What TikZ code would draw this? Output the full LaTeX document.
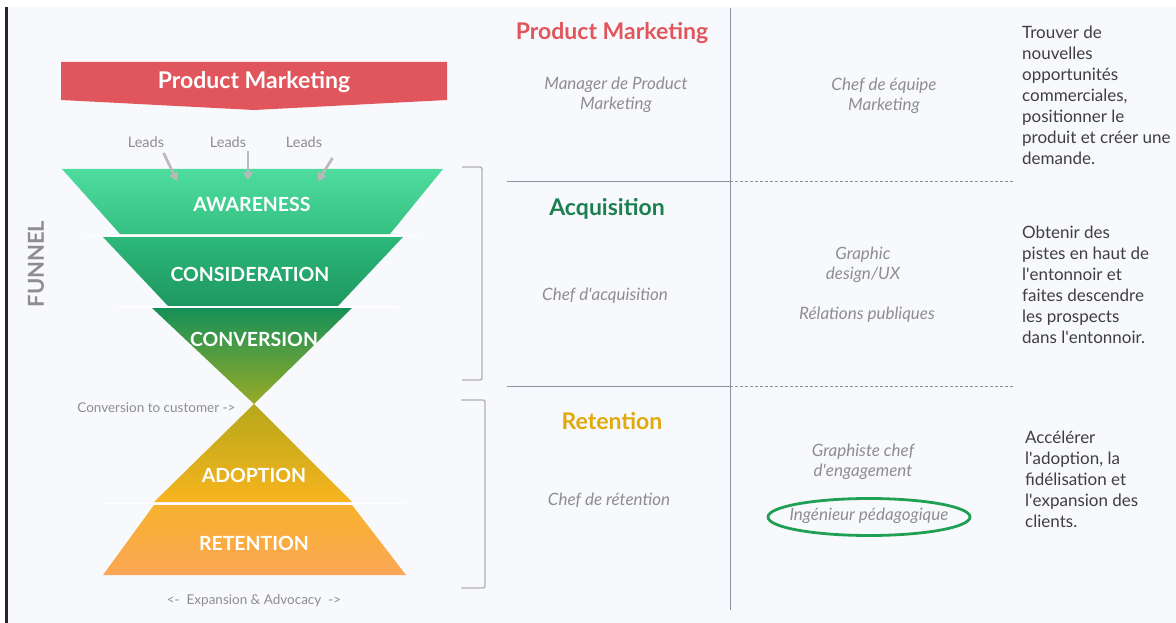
\documentclass[tikz,border=0pt]{standalone}
\usepackage{fontspec}
\setmainfont{Lato}
\usepackage{tikz}
\usetikzlibrary{positioning,shapes.geometric,arrows.meta}
\usepackage{xcolor}
\definecolor{pmred}{HTML}{E0565C}
\definecolor{acqgreen}{HTML}{1B7F50}
\definecolor{retgold}{HTML}{E0A90C}
\definecolor{softgray}{HTML}{8E8E8E}
\definecolor{textdark}{HTML}{3F3F3F}
\definecolor{linegray}{HTML}{8C90A0}
\definecolor{bggray}{HTML}{F8F9FC}
\definecolor{ovalgreen}{HTML}{1FA055}
\definecolor{awtop}{HTML}{4FDC9F}
\definecolor{awbot}{HTML}{34C081}
\definecolor{cotop}{HTML}{2CB87A}
\definecolor{cobot}{HTML}{1E9760}
\definecolor{cvtop}{HTML}{159058}
\definecolor{cvmid}{HTML}{2D9548}
\definecolor{cvbot}{HTML}{98AA26}
\definecolor{adtop}{HTML}{B5A81A}
\definecolor{admid}{HTML}{FABE0A}
\definecolor{adbot}{HTML}{F8B41E}
\definecolor{retop}{HTML}{F8B22E}
\definecolor{rebot}{HTML}{FBA655}
\newcommand{\apos}{\textquotesingle}
\tikzset{
  lead/.style={text=softgray, font=\fontsize{14.5}{17}\selectfont},
  leadarrow/.style={draw=gray!55, line width=2.6pt, -{Triangle[length=8pt,width=9pt]}},
  stage/.style={text=white, font=\bfseries\fontsize{19.5}{23}\selectfont},
  head/.style={font=\bfseries\fontsize{23}{27}\selectfont},
  role/.style={text=softgray, font=\itshape\fontsize{17}{20.5}\selectfont, align=center},
  note/.style={text=softgray, font=\fontsize{13.5}{16}\selectfont},
  goal/.style={text=textdark, font=\fontsize{17}{21}\selectfont, align=left, anchor=north west, inner sep=0pt},
  bracket/.style={draw=gray!60, line width=1.4pt, rounded corners=2pt},
  sep/.style={draw=linegray, line width=0.9pt}
}
\begin{document}
\begin{tikzpicture}[x=1pt,y=-1pt]
            \useasboundingbox (0,0) rectangle (1176,623);
            \fill[white] (0,0) rectangle (1176,623);
            \fill[bggray] (7,7) rectangle (1176,623);
            \fill[black!85] (5,7) rectangle (8,623);
            % funnel
            \fill[pmred] (61,62) -- (447,62) -- (447,100) -- (254,110) -- (61,100) -- cycle;
            \shade[top color=awtop, bottom color=awbot] (62,169) -- (443,169) -- (390,234) -- (120,234) -- cycle;
            \shade[top color=cotop, bottom color=cobot] (103,237) -- (403,237) -- (338,306) -- (168,306) -- cycle;
            \shade[top color=cvtop, middle color=cvmid, bottom color=cvbot] (152,308) -- (352,308) -- (254,404) -- cycle;
            \shade[top color=adtop, middle color=admid, bottom color=adbot] (254,404) -- (352,502) -- (154,502) -- cycle;
            \shade[top color=retop, bottom color=rebot] (154,505) -- (352,505) -- (406,575) -- (103,575) -- cycle;
            \draw[white, line width=1.2pt] (86,235.5) -- (418,235.5);
            \draw[white, line width=1.2pt] (118,307) -- (398,307);
            \draw[white, line width=1.2pt] (104,503.5) -- (405,503.5);
            \node[head, text=white](banner) at (254,82){Product Marketing};
            \node[stage](aw) at (252,204){AWARENESS};
            \node[stage](co) at (250,274){CONSIDERATION};
            \node[stage](cv) at (254,339){CONVERSION};
            \node[stage](ad) at (254,475){ADOPTION};
            \node[stage](re) at (254,543){RETENTION};
            \node[lead](l1) at (146,142){Leads};
            \node[lead](l2) at (228,142){Leads};
            \node[lead](l3) at (304,142){Leads};
            \coordinate (t1) at (177,181);
            \coordinate (t2) at (248,180);
            \coordinate (t3) at (318,181);
            \path ([shift={(-4,2)}]l1.south east) edge[leadarrow] (t1);
            \path (l2.south -| t2) edge[leadarrow] (t2);
            \path ([shift={(7,7)}]l3.south east) edge[leadarrow] (t3);
            \node[note, anchor=east](cust) at (239,408){Conversion to customer ->};
            \node[note](exp) at (254,601){<-~ Expansion \& Advocacy ~->};
            \node[text=softgray, font=\bfseries\fontsize{22}{25}\selectfont, rotate=90](funnel) at (36,264){FUNNEL};
            % brackets
            \draw[bracket] (462,167) -- (482,167) -- (482,380) -- (462,380);
            \draw[bracket] (461,400) -- (485,400) -- (485,588) -- (461,588);
            % grid
            \draw[sep] (730,8) -- (730,610);
            \draw[sep] (507,181) -- (730,181);
            \draw[sep, dash pattern=on 3pt off 2pt] (730,181) -- (1015,181);
            \draw[sep] (507,386) -- (730,386);
            \draw[sep, dash pattern=on 3pt off 2pt] (730,386) -- (1015,386);
            % columns
            \node[head, text=pmred](hpm) at (612,33){Product Marketing};
            \node[head, text=acqgreen](hacq) at (607,209){Acquisition};
            \node[head, text=retgold](hret) at (612,421){Retention};
            \node[role](mpm) at (616,95){Manager de Product\\Marketing};
            \node[role](cacq) at (605,296){Chef d\apos acquisition};
            \node[role](cret) at (609,500){Chef de rétention};
            \node[role](cem) at (884,96){Chef de équipe\\Marketing};
            \node[role](gd) at (863,265){Graphic\\design/UX};
            \node[role](rp) at (867,315){Rélations publiques};
            \node[role](gce) at (863,462){Graphiste chef\\d\apos engagement};
            \node[role](ing) at (869,516){Ingénieur pédagogique};
            \draw[ovalgreen, line width=2.8pt] (869,517) ellipse (101 and 18.5);
            \node[goal](g1) at (1022,26){Trouver de\\nouvelles\\opportunités\\commerciales,\\positionner le\\produit et créer une\\demande.};
            \node[goal](g2) at (1022,226){Obtenir des\\pistes en haut de\\l\apos entonnoir et\\faites descendre\\les prospects\\dans l\apos entonnoir.};
            \node[goal](g3) at (1025,431){Accélérer\\l\apos adoption, la\\fidélisation et\\l\apos expansion des\\clients.};
\end{tikzpicture}
\end{document}
